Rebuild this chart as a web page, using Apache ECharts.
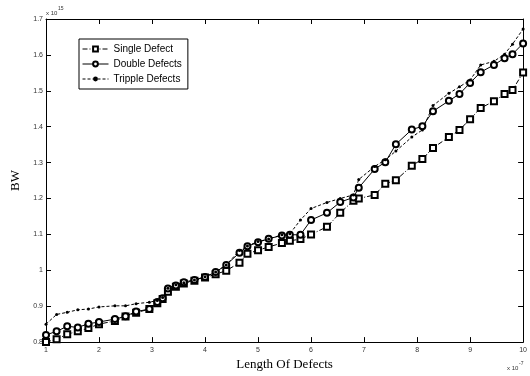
<!DOCTYPE html>
<html>
<head>
<meta charset="utf-8">
<script src="https://cdn.jsdelivr.net/npm/echarts@6/dist/echarts.min.js"></script>
<style>
html,body{margin:0;padding:0;background:#fff;}
#chart{width:530px;height:376px;}
</style>
</head>
<body>
<div id="chart"></div>
<script>
// Length of defects (x 10^-7)
var lengths = [1, 1.2, 1.4, 1.6, 1.8, 2.0, 2.3, 2.5, 2.7, 2.95, 3.1, 3.2, 3.3, 3.45, 3.6, 3.8, 4.0, 4.2, 4.4, 4.65, 4.8, 5.0, 5.2, 5.45, 5.6, 5.8, 6.0, 6.3, 6.55, 6.8, 6.9, 7.2, 7.4, 7.6, 7.9, 8.1, 8.3, 8.6, 8.8, 9.0, 9.2, 9.45, 9.65, 9.8, 10];
// BW (x 10^15)
var singleDefect = [0.800, 0.808, 0.822, 0.830, 0.839, 0.850, 0.859, 0.871, 0.882, 0.892, 0.908, 0.920, 0.940, 0.954, 0.963, 0.971, 0.980, 0.989, 0.999, 1.021, 1.046, 1.056, 1.065, 1.076, 1.082, 1.087, 1.100, 1.121, 1.160, 1.194, 1.200, 1.210, 1.241, 1.251, 1.291, 1.310, 1.341, 1.371, 1.391, 1.421, 1.452, 1.471, 1.491, 1.502, 1.551];
var doubleDefects = [0.820, 0.830, 0.844, 0.841, 0.851, 0.856, 0.864, 0.872, 0.885, 0.892, 0.912, 0.922, 0.949, 0.958, 0.967, 0.973, 0.981, 0.995, 1.015, 1.049, 1.067, 1.078, 1.088, 1.097, 1.099, 1.099, 1.140, 1.160, 1.190, 1.203, 1.230, 1.282, 1.301, 1.351, 1.392, 1.401, 1.443, 1.472, 1.491, 1.522, 1.552, 1.572, 1.591, 1.602, 1.632];
var trippleDefects = [0.850, 0.877, 0.883, 0.890, 0.892, 0.898, 0.901, 0.901, 0.907, 0.911, 0.916, 0.924, 0.950, 0.960, 0.965, 0.973, 0.982, 0.995, 1.015, 1.055, 1.068, 1.080, 1.087, 1.099, 1.102, 1.140, 1.172, 1.189, 1.200, 1.210, 1.253, 1.289, 1.308, 1.332, 1.371, 1.391, 1.459, 1.493, 1.511, 1.530, 1.572, 1.582, 1.602, 1.630, 1.672];
var seriesNames = ['Single Defect', 'Double Defects', 'Tripple Defects'];
var xTicks = [1, 2, 3, 4, 5, 6, 7, 8, 9, 10];
var yTicks = [0.8, 0.9, 1.0, 1.1, 1.2, 1.3, 1.4, 1.5, 1.6, 1.7];

function pairs(ys) { return lengths.map(function (x, i) { return [x, ys[i]]; }); }

var labelFont = { fontFamily: 'Liberation Sans, Arial, sans-serif', fontSize: 7, color: '#333' };
var axisLine = { show: true, lineStyle: { color: '#000', width: 1 } };
var tick = { show: true, inside: true, length: 5, lineStyle: { color: '#000', width: 1 } };

var chart = echarts.init(document.getElementById('chart'), null, { renderer: 'canvas' });
chart.setOption({
  animation: false,
  backgroundColor: '#fff',
  grid: { left: 46, right: 3, top: 19, bottom: 26, containLabel: false },
  xAxis: [{
    type: 'value', min: xTicks[0], max: xTicks[xTicks.length - 1], interval: 1,
    axisLine: axisLine, axisTick: tick, splitLine: { show: false },
    axisLabel: Object.assign({ margin: 4 }, labelFont),
    name: 'Length Of Defects', nameLocation: 'middle', nameGap: 12,
    nameTextStyle: { fontFamily: 'Liberation Serif, Times New Roman, serif', fontSize: 13, color: '#000' }
  }, {
    type: 'value', position: 'top', min: xTicks[0], max: xTicks[xTicks.length - 1], interval: 1,
    axisLine: axisLine, axisTick: tick, splitLine: { show: false }, axisLabel: { show: false }
  }],
  yAxis: [{
    type: 'value', min: yTicks[0], max: yTicks[yTicks.length - 1], interval: 0.1,
    axisLine: axisLine, axisTick: tick, splitLine: { show: false },
    axisLabel: Object.assign({ margin: 3, formatter: function (v) { return String(parseFloat(v.toFixed(1))); } }, labelFont),
    name: 'BW', nameLocation: 'middle', nameGap: 22,
    nameTextStyle: { fontFamily: 'Liberation Serif, Times New Roman, serif', fontSize: 13, color: '#000' }
  }, {
    type: 'value', position: 'right', min: yTicks[0], max: yTicks[yTicks.length - 1], interval: 0.1,
    axisLine: axisLine, axisTick: tick, splitLine: { show: false }, axisLabel: { show: false }
  }],
  legend: {
    orient: 'vertical', left: 79, top: 39,
    padding: [4, 6, 4, 3], itemGap: 3, itemWidth: 26, itemHeight: 6,
    backgroundColor: '#fff', borderColor: '#000', borderWidth: 1, borderRadius: 0,
    lineStyle: { width: 1 },
    itemStyle: { borderWidth: 1 },
    textStyle: { fontFamily: 'Liberation Sans, Arial, sans-serif', fontSize: 10, color: '#000', lineHeight: 12 },
    data: seriesNames
  },
  graphic: [
    { type: 'text', left: 46, top: 10, style: { text: 'x 10', fontSize: 6, fontFamily: 'Liberation Sans, Arial, sans-serif', fill: '#333' } },
    { type: 'text', left: 58, top: 6, style: { text: '15', fontSize: 5, fontFamily: 'Liberation Sans, Arial, sans-serif', fill: '#333' } },
    { type: 'text', left: 507, top: 365, style: { text: 'x 10', fontSize: 6, fontFamily: 'Liberation Sans, Arial, sans-serif', fill: '#333' } },
    { type: 'text', left: 519, top: 361, style: { text: '-7', fontSize: 5, fontFamily: 'Liberation Sans, Arial, sans-serif', fill: '#333' } }
  ],
  series: [{
    name: seriesNames[0], type: 'line', data: pairs(singleDefect),
    symbol: 'emptyRect', symbolSize: 6, showAllSymbol: true,
    lineStyle: { color: '#000', width: 1, type: [5, 2, 1, 2] },
    itemStyle: { color: '#000', borderColor: '#000', borderWidth: 1 }
  }, {
    name: seriesNames[1], type: 'line', data: pairs(doubleDefects),
    symbol: 'emptyCircle', symbolSize: 6, showAllSymbol: true,
    lineStyle: { color: '#000', width: 1, type: 'solid' },
    itemStyle: { color: '#000', borderColor: '#000', borderWidth: 1 }
  }, {
    name: seriesNames[2], type: 'line', data: pairs(trippleDefects),
    symbol: 'circle', symbolSize: 3, showAllSymbol: true,
    lineStyle: { color: '#000', width: 1, type: [3, 2] },
    itemStyle: { color: '#000' }
  }]
});
</script>
</body>
</html>
